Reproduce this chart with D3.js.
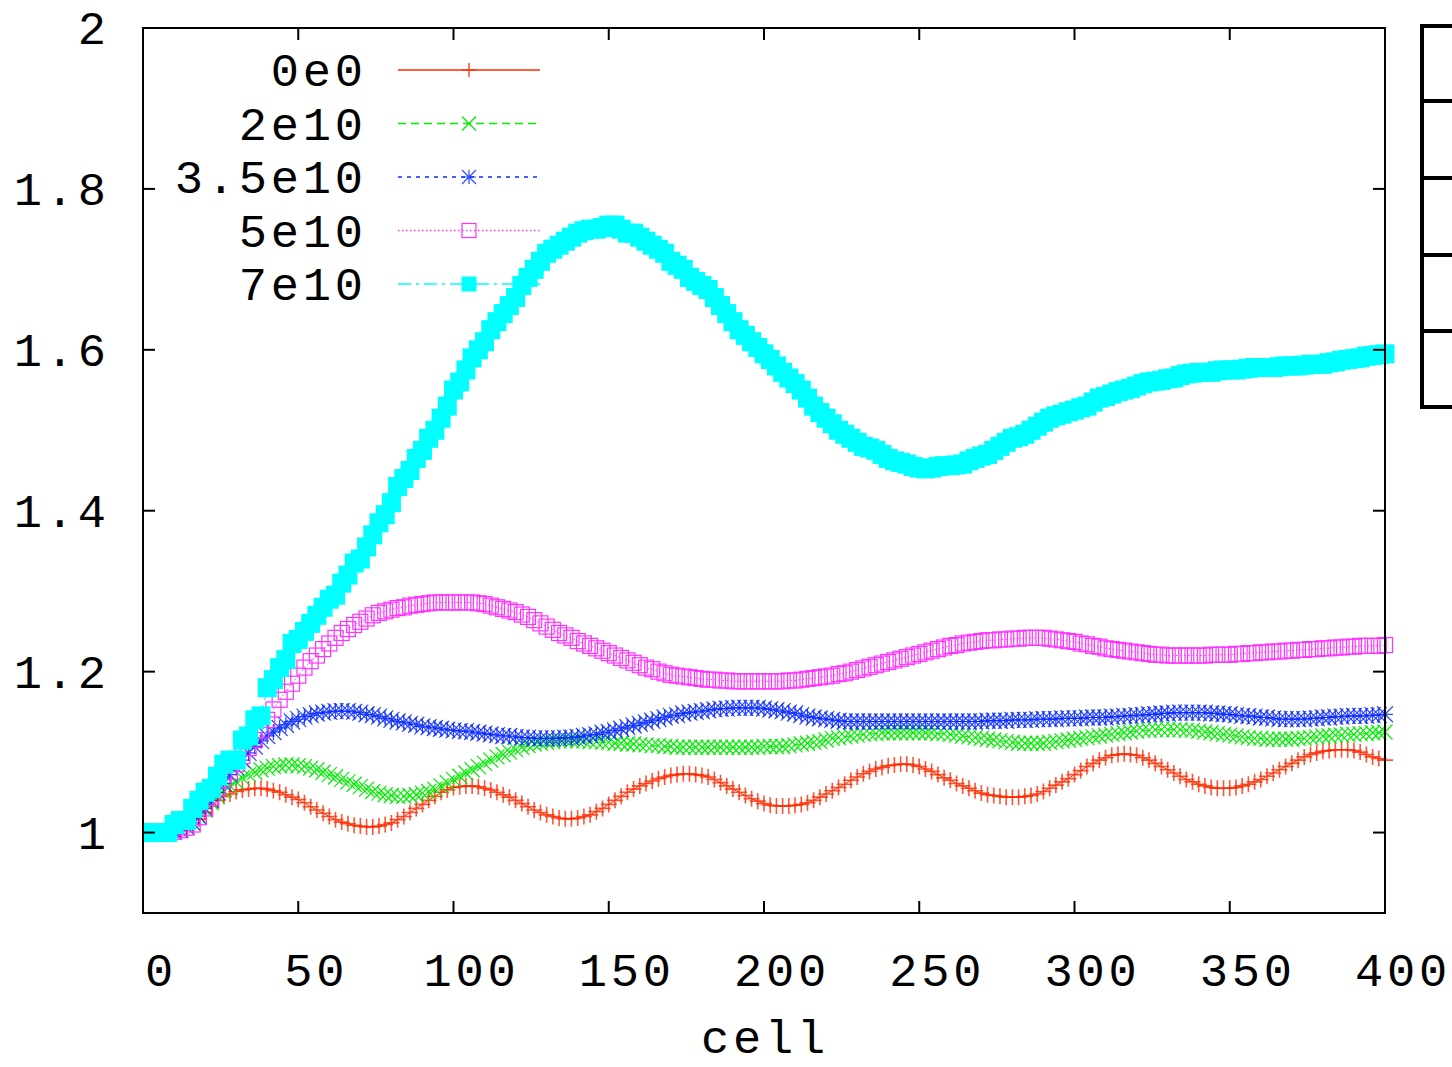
<!DOCTYPE html>
<html>
<head>
<meta charset="utf-8">
<script src="https://cdn.jsdelivr.net/npm/d3@7"></script>
<style>
  html, body { margin: 0; padding: 0; background: #fff; }
  svg { display: block; }
  text { font-family: "Liberation Mono", "DejaVu Sans Mono", monospace; fill: #000; }
</style>
</head>
<body>
<svg id="chart" width="1452" height="1067"></svg>
<script>
// ---- data ----
const cells = d3.range(0, 401, 2);   // cell index of each sample

const seriesNames = ["0e0", "2e10", "3.5e10", "5e10", "7e10"];

const v0e0 = [
  1.0,1.0,1.0,1.0,1.0,1.001,1.002,1.005,1.01,1.017,
  1.025,1.033,1.04,1.045,1.048,1.051,1.053,1.054,1.055,1.055,
  1.054,1.052,1.05,1.047,1.044,1.041,1.037,1.032,1.028,1.024,
  1.02,1.016,1.013,1.011,1.009,1.008,1.007,1.007,1.008,1.01,
  1.012,1.016,1.02,1.025,1.03,1.035,1.04,1.045,1.05,1.053,
  1.056,1.057,1.058,1.058,1.057,1.055,1.053,1.05,1.047,1.044,
  1.04,1.036,1.032,1.028,1.025,1.022,1.02,1.018,1.017,1.017,
  1.018,1.02,1.022,1.026,1.03,1.035,1.04,1.045,1.05,1.054,
  1.058,1.061,1.064,1.067,1.069,1.071,1.072,1.073,1.073,1.072,
  1.071,1.069,1.066,1.062,1.058,1.054,1.05,1.046,1.042,1.039,
  1.036,1.034,1.033,1.033,1.033,1.034,1.035,1.037,1.04,1.044,
  1.048,1.052,1.056,1.06,1.065,1.069,1.073,1.076,1.079,1.081,
  1.083,1.084,1.085,1.085,1.084,1.082,1.079,1.076,1.072,1.068,
  1.065,1.061,1.058,1.055,1.052,1.049,1.047,1.046,1.045,1.044,
  1.044,1.044,1.045,1.046,1.048,1.051,1.055,1.059,1.063,1.067,
  1.072,1.077,1.082,1.086,1.09,1.093,1.096,1.097,1.098,1.097,
  1.096,1.093,1.09,1.086,1.082,1.078,1.074,1.07,1.066,1.063,
  1.06,1.058,1.056,1.055,1.055,1.055,1.056,1.058,1.06,1.063,
  1.066,1.07,1.074,1.078,1.082,1.086,1.09,1.094,1.097,1.099,
  1.101,1.102,1.103,1.103,1.103,1.102,1.1,1.097,1.094,1.092,
  1.09];

const v2e10 = [
  1.0,1.0,1.0,1.0,1.0,1.001,1.003,1.007,1.012,1.02,
  1.028,1.037,1.045,1.052,1.058,1.063,1.068,1.072,1.075,1.078,
  1.08,1.082,1.083,1.084,1.084,1.083,1.082,1.08,1.078,1.075,
  1.072,1.069,1.066,1.063,1.06,1.057,1.054,1.051,1.049,1.047,
  1.046,1.045,1.045,1.046,1.047,1.049,1.051,1.054,1.058,1.062,
  1.066,1.07,1.074,1.078,1.082,1.086,1.09,1.094,1.097,1.1,
  1.103,1.106,1.108,1.11,1.111,1.112,1.113,1.114,1.114,1.114,
  1.114,1.114,1.113,1.113,1.112,1.112,1.111,1.111,1.11,1.11,
  1.109,1.109,1.108,1.108,1.107,1.107,1.106,1.106,1.106,1.106,
  1.106,1.106,1.106,1.106,1.106,1.106,1.106,1.106,1.106,1.106,
  1.107,1.107,1.107,1.107,1.108,1.109,1.11,1.111,1.112,1.113,
  1.115,1.117,1.118,1.119,1.12,1.121,1.122,1.123,1.123,1.124,
  1.124,1.124,1.124,1.124,1.124,1.124,1.124,1.124,1.123,1.123,
  1.122,1.121,1.12,1.119,1.118,1.117,1.116,1.115,1.114,1.113,
  1.112,1.111,1.111,1.111,1.111,1.111,1.112,1.113,1.114,1.115,
  1.116,1.117,1.118,1.119,1.12,1.121,1.122,1.123,1.124,1.125,
  1.126,1.127,1.127,1.128,1.128,1.128,1.128,1.128,1.127,1.127,
  1.126,1.125,1.124,1.123,1.122,1.121,1.12,1.119,1.118,1.117,
  1.117,1.116,1.116,1.116,1.116,1.116,1.117,1.117,1.118,1.119,
  1.12,1.12,1.121,1.121,1.122,1.122,1.123,1.123,1.124,1.124,
  1.125];

const v3_5e10 = [
  1.0,1.0,1.0,1.0,1.0,1.001,1.003,1.007,1.012,1.02,
  1.03,1.04,1.05,1.061,1.072,1.081,1.09,1.099,1.107,1.114,
  1.12,1.125,1.13,1.134,1.138,1.141,1.144,1.146,1.148,1.149,
  1.15,1.151,1.151,1.151,1.15,1.149,1.147,1.146,1.144,1.142,
  1.14,1.138,1.137,1.135,1.134,1.132,1.131,1.13,1.129,1.128,
  1.127,1.126,1.126,1.125,1.124,1.123,1.122,1.121,1.12,1.12,
  1.119,1.118,1.118,1.117,1.117,1.117,1.117,1.117,1.118,1.118,
  1.119,1.12,1.121,1.122,1.124,1.125,1.127,1.129,1.131,1.133,
  1.135,1.137,1.139,1.141,1.143,1.145,1.146,1.148,1.149,1.15,
  1.151,1.152,1.153,1.154,1.154,1.155,1.155,1.155,1.155,1.155,
  1.154,1.153,1.152,1.151,1.149,1.148,1.146,1.144,1.143,1.142,
  1.141,1.14,1.139,1.138,1.138,1.138,1.138,1.138,1.138,1.138,
  1.138,1.138,1.138,1.138,1.138,1.138,1.138,1.138,1.138,1.138,
  1.138,1.138,1.138,1.138,1.138,1.138,1.139,1.139,1.139,1.139,
  1.14,1.14,1.14,1.14,1.141,1.141,1.141,1.141,1.142,1.142,
  1.142,1.142,1.143,1.143,1.143,1.143,1.144,1.144,1.145,1.145,
  1.146,1.146,1.147,1.147,1.148,1.148,1.149,1.149,1.149,1.149,
  1.149,1.149,1.148,1.148,1.147,1.147,1.146,1.145,1.145,1.144,
  1.143,1.143,1.142,1.141,1.141,1.141,1.141,1.141,1.142,1.142,
  1.143,1.143,1.144,1.144,1.145,1.145,1.145,1.145,1.146,1.146,
  1.147];

const v5e10 = [
  1.0,1.0,1.0,1.0,1.0,1.001,1.003,1.006,1.01,1.019,
  1.03,1.043,1.055,1.065,1.075,1.085,1.095,1.105,1.115,1.127,
  1.14,1.153,1.165,1.175,1.185,1.195,1.205,1.213,1.22,1.228,
  1.235,1.242,1.248,1.253,1.258,1.262,1.266,1.27,1.273,1.275,
  1.277,1.279,1.28,1.282,1.283,1.284,1.285,1.286,1.286,1.286,
  1.286,1.286,1.286,1.286,1.285,1.284,1.282,1.28,1.278,1.276,
  1.274,1.271,1.268,1.264,1.26,1.256,1.252,1.248,1.245,1.242,
  1.238,1.235,1.232,1.229,1.226,1.223,1.22,1.217,1.214,1.211,
  1.208,1.205,1.203,1.2,1.198,1.196,1.195,1.194,1.193,1.192,
  1.191,1.19,1.19,1.189,1.189,1.188,1.188,1.188,1.188,1.188,
  1.188,1.188,1.188,1.188,1.189,1.189,1.19,1.191,1.192,1.193,
  1.194,1.195,1.197,1.198,1.2,1.202,1.204,1.206,1.208,1.21,
  1.212,1.214,1.216,1.218,1.22,1.222,1.224,1.226,1.228,1.23,
  1.232,1.233,1.235,1.236,1.237,1.238,1.239,1.239,1.24,1.24,
  1.241,1.241,1.242,1.242,1.242,1.242,1.241,1.24,1.239,1.238,
  1.237,1.235,1.234,1.232,1.231,1.229,1.228,1.227,1.226,1.225,
  1.224,1.223,1.222,1.221,1.221,1.22,1.22,1.22,1.22,1.22,
  1.22,1.22,1.221,1.221,1.221,1.221,1.222,1.222,1.223,1.223,
  1.224,1.224,1.225,1.225,1.226,1.226,1.227,1.227,1.228,1.228,
  1.229,1.229,1.23,1.23,1.231,1.231,1.232,1.232,1.232,1.232,
  1.233];

const v7e10 = [
  1.0,1.0,1.0,1.0,1.0,1.01,1.015,1.015,1.03,1.04,
  1.05,1.055,1.07,1.085,1.09,1.09,1.115,1.12,1.14,1.145,
  1.18,1.19,1.205,1.215,1.235,1.24,1.25,1.26,1.27,1.28,
  1.29,1.295,1.31,1.32,1.335,1.34,1.355,1.37,1.385,1.395,
  1.41,1.43,1.44,1.45,1.465,1.475,1.49,1.5,1.515,1.53,
  1.55,1.56,1.575,1.59,1.6,1.61,1.625,1.635,1.645,1.655,
  1.665,1.68,1.69,1.7,1.71,1.72,1.725,1.73,1.735,1.74,
  1.745,1.748,1.75,1.75,1.752,1.755,1.755,1.75,1.745,1.745,
  1.74,1.735,1.73,1.725,1.72,1.71,1.705,1.7,1.69,1.685,
  1.68,1.675,1.665,1.655,1.645,1.635,1.625,1.618,1.61,1.603,
  1.595,1.588,1.58,1.572,1.565,1.558,1.55,1.54,1.53,1.522,
  1.515,1.508,1.5,1.495,1.49,1.485,1.48,1.478,1.475,1.47,
  1.465,1.462,1.46,1.458,1.455,1.453,1.452,1.453,1.455,1.456,
  1.456,1.457,1.458,1.462,1.465,1.468,1.47,1.475,1.48,1.485,
  1.49,1.492,1.495,1.5,1.505,1.51,1.515,1.518,1.52,1.523,
  1.525,1.528,1.53,1.535,1.54,1.542,1.545,1.548,1.55,1.552,
  1.555,1.558,1.56,1.561,1.562,1.564,1.565,1.568,1.57,1.571,
  1.572,1.572,1.572,1.574,1.575,1.575,1.575,1.576,1.577,1.578,
  1.578,1.578,1.578,1.579,1.58,1.58,1.58,1.581,1.582,1.582,
  1.582,1.584,1.585,1.587,1.588,1.589,1.59,1.592,1.593,1.594,
  1.595];

const xTicks = [0, 50, 100, 150, 200, 250, 300, 350, 400];
const yTicks = [1, 1.2, 1.4, 1.6, 1.8, 2];
const yTickLabels = ["1", "1.2", "1.4", "1.6", "1.8", "2"];
const xLabel = "cell";

// ---- layout / style ----
const L = 143, R = 1385, T = 28, B = 913;
const x = d3.scaleLinear().domain([0, 400]).range([L, R]);
const y = d3.scaleLinear().domain([0.9, 2]).range([B, T]);

const FS = 47, LS = 3.8;   // font size, letter spacing

const styles = [
  { color: "#ff2a00", dash: null,          marker: "plus",  size: 16 },
  { color: "#00ee00", dash: "8,5",         marker: "cross", size: 15 },
  { color: "#0a2cff", dash: "4,5",         marker: "star",  size: 16 },
  { color: "#ff33ff", dash: "1.5,2.5",     marker: "box",   size: 15 },
  { color: "#00ffff", dash: "13,5,3,5",    marker: "fbox",  size: 19 }
];
const allValues = [v0e0, v2e10, v3_5e10, v5e10, v7e10];

const svg = d3.select("#chart");
svg.append("rect").attr("width", 1452).attr("height", 1067).attr("fill", "#fff");

const clip = svg.append("clipPath").attr("id", "clip");
clip.append("rect").attr("x", L).attr("y", T).attr("width", R - L + 10).attr("height", B - T);

function drawMarker(g, type, cx, cy, color, s) {
  const h = s / 2;
  if (type === "plus") {
    g.append("path").attr("d", `M${cx - h},${cy}H${cx + h}M${cx},${cy - h}V${cy + h}`)
      .attr("stroke", color).attr("stroke-width", 1.6).attr("fill", "none").attr("stroke-opacity", 0.8);
  } else if (type === "cross") {
    g.append("path").attr("d", `M${cx - h},${cy - h}L${cx + h},${cy + h}M${cx - h},${cy + h}L${cx + h},${cy - h}`)
      .attr("stroke", color).attr("stroke-width", 1.2).attr("fill", "none");
  } else if (type === "star") {
    g.append("path").attr("d", `M${cx - h},${cy}H${cx + h}M${cx},${cy - h}V${cy + h}M${cx - h},${cy - h}L${cx + h},${cy + h}M${cx - h},${cy + h}L${cx + h},${cy - h}`)
      .attr("stroke", color).attr("stroke-width", 1.2).attr("fill", "none").attr("stroke-opacity", 0.85);
  } else if (type === "box") {
    g.append("rect").attr("x", cx - h).attr("y", cy - h).attr("width", s).attr("height", s)
      .attr("stroke", color).attr("stroke-width", 1.2).attr("fill", "none");
  } else if (type === "fbox") {
    g.append("rect").attr("x", cx - h).attr("y", cy - h).attr("width", s).attr("height", s)
      .attr("fill", color);
  }
}

const line = d3.line().x(d => x(d[0])).y(d => y(d[1]));
const dataG = svg.append("g").attr("clip-path", "url(#clip)");
allValues.forEach((vals, i) => {
  const st = styles[i];
  const pts = cells.map((c, j) => [c, vals[j]]);
  const g = dataG.append("g");
  g.append("path").datum(pts).attr("d", line).attr("fill", "none")
    .attr("stroke", st.color).attr("stroke-width", 1).attr("stroke-dasharray", st.dash);
  pts.forEach(p => drawMarker(g, st.marker, x(p[0]), y(p[1]), st.color, st.size));
});

// frame
svg.append("rect").attr("x", L).attr("y", T).attr("width", R - L).attr("height", B - T)
  .attr("fill", "none").attr("stroke", "#000").attr("stroke-width", 2);

// ticks
const tickLen = 12;
yTicks.forEach((t, i) => {
  const yy = y(t);
  svg.append("line").attr("x1", L).attr("x2", L + tickLen).attr("y1", yy).attr("y2", yy).attr("stroke", "#000").attr("stroke-width", 2);
  svg.append("line").attr("x1", R).attr("x2", R - tickLen).attr("y1", yy).attr("y2", yy).attr("stroke", "#000").attr("stroke-width", 2);
  svg.append("text").attr("x", 106 + LS).attr("y", yy).attr("dy", "0.35em").attr("text-anchor", "end")
    .attr("font-size", FS).attr("letter-spacing", LS).text(yTickLabels[i]);
});
xTicks.forEach(t => {
  const xx = x(t);
  svg.append("line").attr("x1", xx).attr("x2", xx).attr("y1", B).attr("y2", B - tickLen).attr("stroke", "#000").attr("stroke-width", 2);
  svg.append("line").attr("x1", xx).attr("x2", xx).attr("y1", T).attr("y2", T + tickLen).attr("stroke", "#000").attr("stroke-width", 2);
  svg.append("text").attr("x", xx + 16 + LS / 2).attr("y", 970).attr("dy", "0.35em").attr("text-anchor", "middle")
    .attr("font-size", FS).attr("letter-spacing", LS).text(String(t));
});
svg.append("text").attr("x", 763 + LS / 2).attr("y", 1037).attr("dy", "0.35em").attr("text-anchor", "middle")
  .attr("font-size", FS).attr("letter-spacing", LS).text(xLabel);

// legend
const legY0 = 70, legDY = 53.5;
seriesNames.forEach((name, i) => {
  const st = styles[i];
  const yy = legY0 + i * legDY;
  svg.append("text").attr("x", 363 + LS).attr("y", yy).attr("dy", "0.35em").attr("text-anchor", "end")
    .attr("font-size", FS).attr("letter-spacing", LS).text(name);
  svg.append("line").attr("x1", 398).attr("x2", 540).attr("y1", yy).attr("y2", yy)
    .attr("stroke", st.color).attr("stroke-width", 1.3).attr("stroke-dasharray", st.dash);
  drawMarker(svg.append("g"), st.marker, 469, yy, st.color, st.marker === "fbox" ? 15 : 14);
});

// partially visible box at the right edge
const boxG = svg.append("g");
const boxLines = [26, 101, 178, 255, 331, 407];
boxG.append("line").attr("x1", 1422).attr("x2", 1422).attr("y1", 24).attr("y2", 409)
  .attr("stroke", "#000").attr("stroke-width", 4);
boxLines.forEach(by => {
  boxG.append("line").attr("x1", 1420).attr("x2", 1452).attr("y1", by).attr("y2", by)
    .attr("stroke", "#000").attr("stroke-width", 4);
});
</script>
</body>
</html>
